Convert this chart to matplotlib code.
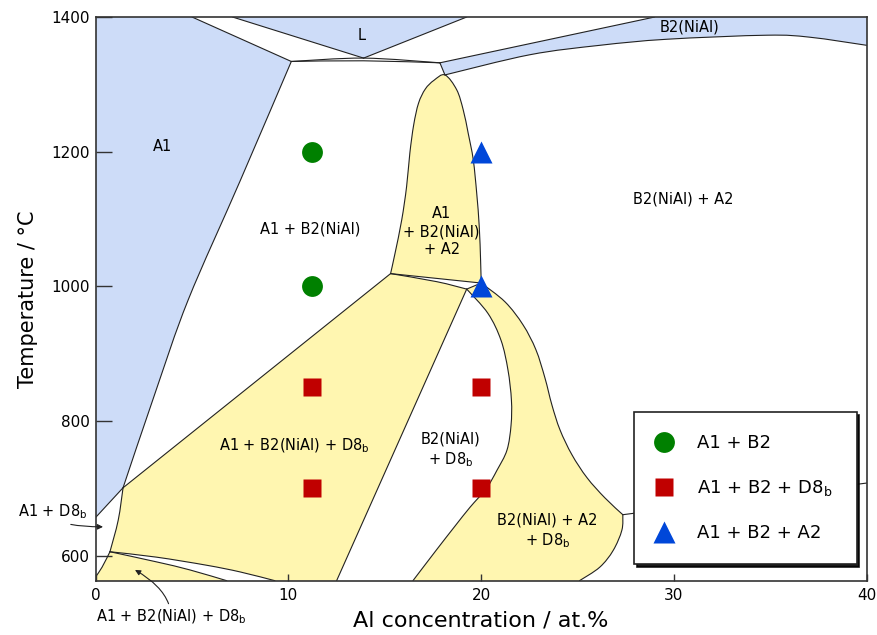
import matplotlib
matplotlib.use("Agg")
import matplotlib.pyplot as plt
from matplotlib.lines import Line2D
from matplotlib.path import Path
from matplotlib.patches import PathPatch

plt.rcParams['font.family'] = ['DejaVu Sans']
plt.rcParams['mathtext.default'] = 'regular'

BLUE = '#cddcf8'
YELLOW = '#fff6b0'
EDGE = '#222222'

# phase boundaries as (at.% Al, deg C)
a1_top = [(5.0, 1400), (10.15, 1334)]
a1_solvus = [(10.15, 1334), (7.5, 1157), (4.8, 980), (3.1, 843), (1.42, 701)]
a1_solvus_mid = [(1.42, 701), (1.17, 653), (0.74, 606)]
a1_solvus_low = [(0.74, 606), (0.33, 583), (0.0, 569)]
a1_d8 = [(0.0, 657), (1.42, 701)]
l_left = [(7.1, 1400), (13.9, 1339)]
l_right = [(13.9, 1339), (19.25, 1400)]
melt_upper = [(10.15, 1334), (13.9, 1339), (17.86, 1332)]
melt_lower = [(10.15, 1334), (13.9, 1335), (17.86, 1332)]
b2_upper = [(17.86, 1332), (29.0, 1400)]
b2_left = [(17.86, 1332), (18.12, 1314)]
b2_lower = [(18.12, 1314), (22.53, 1344), (26.16, 1358), (29.64, 1367),
            (34.83, 1373), (37.06, 1370), (40.0, 1358)]
tongue = [(15.3, 1019), (15.53, 1049), (15.88, 1099), (16.13, 1148), (16.3, 1198),
          (16.5, 1240), (16.75, 1272), (17.1, 1293), (17.55, 1306), (18.12, 1314),
          (18.73, 1292), (19.07, 1262), (19.33, 1227), (19.59, 1188), (19.77, 1138),
          (19.9, 1089), (19.97, 1039), (20.0, 1005)]
tongue_base = [(20.0, 1005), (15.3, 1019)]
sliver_low = [(15.3, 1019), (17.7, 1007), (19.25, 996)]
ternary_left = [(1.42, 701), (15.3, 1019)]
d8_edge = [(19.25, 996), (12.5, 563)]
lens_right = [(19.25, 996), (20.35, 960), (21.03, 920), (21.39, 876), (21.57, 831),
              (21.55, 794), (21.34, 757), (20.82, 727), (20.27, 700), (19.42, 672),
              (18.64, 644), (17.66, 608), (16.46, 563)]
band_neck = [(19.25, 996), (20.0, 1005)]
band_upper = [(20.0, 1005), (21.24, 977), (22.17, 943), (22.84, 906), (23.31, 864),
              (23.67, 824), (24.09, 787), (24.71, 750), (25.49, 716), (26.42, 686),
              (27.35, 661)]
band_lower = [(27.35, 661), (27.3, 638), (26.85, 608), (26.15, 583), (25.1, 563)]
cusp_line = [(27.35, 661), (40.0, 708)]
low_upper = [(0.74, 606), (3.15, 598), (5.75, 586), (7.5, 576), (9.3, 563)]
low_lower = [(0.74, 606), (3.15, 591), (4.89, 579), (6.8, 563)]

# heat-treatment points
circ_x = [11.2, 11.2]
circ_t = [1200, 1000]
sq_x = [11.2, 11.2, 20, 20]
sq_t = [850, 700, 850, 700]
tri_x = [20, 20]
tri_t = [1200, 1000]
legend_labels = ['A1 + B2', 'A1 + B2 + D8$_b$', 'A1 + B2 + A2']

T_MIN, T_MAX = 563, 1400


def bezier(pts):
    # cubic pieces through every point (Catmull-Rom tangents)
    verts, codes = [], []
    n = len(pts)
    for i in range(n - 1):
        p0, p1 = pts[max(i - 1, 0)], pts[i]
        p2, p3 = pts[i + 1], pts[min(i + 2, n - 1)]
        c1 = (p1[0] + (p2[0] - p0[0]) / 6, p1[1] + (p2[1] - p0[1]) / 6)
        c2 = (p2[0] - (p3[0] - p1[0]) / 6, p2[1] - (p3[1] - p1[1]) / 6)
        verts += [c1, c2, p2]
        codes += [Path.CURVE4] * 3
    return verts, codes


def region(ax, color, *segs):
    verts, codes = [segs[0][0]], [Path.MOVETO]
    for seg in segs:
        if tuple(seg[0]) != tuple(verts[-1]):
            verts.append(seg[0])
            codes.append(Path.LINETO)
        v, c = bezier(seg)
        verts += v
        codes += c
    verts.append(verts[0])
    codes.append(Path.CLOSEPOLY)
    ax.add_patch(PathPatch(Path(verts, codes), facecolor=color, lw=0, zorder=1))


def line(ax, pts):
    v, c = bezier(pts)
    path = Path([pts[0]] + v, [Path.MOVETO] + c)
    ax.add_patch(PathPatch(path, fill=False, edgecolor=EDGE, lw=0.8, zorder=2,
                           joinstyle='round', capstyle='round'))


def rev(pts):
    return pts[::-1]


fig = plt.figure(figsize=(8.77, 6.35), dpi=100)
ax = fig.add_axes([0.1091, 0.0855, 0.8791, 0.8877])

# single-phase fields
region(ax, BLUE, [(0, 1400), (5.0, 1400)], a1_top, a1_solvus, rev(a1_d8))
region(ax, BLUE, l_left, l_right)
region(ax, BLUE, b2_upper, [(29.0, 1400), (40, 1400), (40, 1358)], rev(b2_lower), rev(b2_left))

# three-phase fields
region(ax, YELLOW, tongue, tongue_base)
region(ax, YELLOW, ternary_left, sliver_low, d8_edge, [(12.5, 563), (9.3, 563)],
       rev(low_upper), rev(a1_solvus_mid))
region(ax, YELLOW, rev(a1_solvus_low), low_lower, [(6.8, 563), (0.0, 563)])
region(ax, YELLOW, band_neck, band_upper, band_lower, [(25.1, 563), (16.46, 563)],
       rev(lens_right))

for seg in [a1_top, a1_solvus, a1_solvus_mid, a1_solvus_low, a1_d8, l_left, l_right,
            melt_upper, melt_lower, b2_upper, b2_left, b2_lower, tongue, tongue_base,
            sliver_low, ternary_left, d8_edge, lens_right, band_neck, band_upper,
            band_lower, cusp_line, low_upper, low_lower]:
    line(ax, seg)

# markers
ax.plot(circ_x, circ_t, 'o', ms=15, color='#008000', mec='none', zorder=4)
ax.plot(sq_x, sq_t, 's', ms=12.5, color='#c00000', mec='none', zorder=4)
ax.plot(tri_x, tri_t, '^', ms=16, color='#0047d9', mec='none', zorder=4)

# field labels
fs = 10.5
ax.text(13.8, 1373, 'L', fontsize=fs, ha='center', va='center')
ax.text(30.8, 1385, 'B2(NiAl)', fontsize=fs, ha='center', va='center')
ax.text(3.45, 1207, 'A1', fontsize=fs, ha='center', va='center')
ax.text(11.15, 1085, 'A1 + B2(NiAl)', fontsize=fs, ha='center', va='center')
ax.text(17.95, 1081, 'A1\n+ B2(NiAl)\n+ A2', fontsize=fs, ha='center', va='center',
        linespacing=1.25)
ax.text(30.5, 1130, 'B2(NiAl) + A2', fontsize=fs, ha='center', va='center')
ax.text(10.3, 764, 'A1 + B2(NiAl) + D8$_b$', fontsize=fs, ha='center', va='center')
ax.text(18.4, 757, 'B2(NiAl)\n+ D8$_b$', fontsize=fs, ha='center', va='center',
        linespacing=1.25)
ax.text(23.45, 636, 'B2(NiAl) + A2\n+ D8$_b$', fontsize=fs, ha='center', va='center',
        linespacing=1.25)

arrow = dict(arrowstyle='-|>', color=EDGE, lw=0.8, mutation_scale=8, shrinkA=1, shrinkB=0)
ax.annotate('A1 + D8$_b$', xy=(0.38, 643), xycoords='data', xytext=(53, 123),
            textcoords='figure pixels', ha='center', va='center', fontsize=fs,
            arrowprops=dict(arrow, connectionstyle='angle3,angleA=90,angleB=0'),
            annotation_clip=False)
ax.annotate('A1 + B2(NiAl) + D8$_b$', xy=(2.04, 579), xycoords='data', xytext=(171, 18),
            textcoords='figure pixels', ha='center', va='center', fontsize=fs,
            arrowprops=dict(arrow, connectionstyle='angle3,angleA=90,angleB=-30'),
            annotation_clip=False)

ax.set_xlim(0, 40)
ax.set_ylim(T_MIN, T_MAX)
ax.set_xticks([0, 10, 20, 30, 40])
ax.set_yticks([600, 800, 1000, 1200, 1400])
ax.tick_params(axis='y', direction='in', length=11.5, width=1, pad=4, labelsize=11, color='#333333')
ax.tick_params(axis='x', direction='in', length=5, width=1, pad=5, labelsize=11, color='#333333')
for sp in ax.spines.values():
    sp.set_linewidth(1.2)
    sp.set_color('#333333')

ax.set_xlabel('Al concentration / at.%', fontsize=16, labelpad=6)
ax.set_ylabel('Temperature / °C', fontsize=15, labelpad=10)

handles = [
    Line2D([], [], ls='none', marker='o', ms=15, color='#008000', mec='none'),
    Line2D([], [], ls='none', marker='s', ms=12.5, color='#c00000', mec='none'),
    Line2D([], [], ls='none', marker='^', ms=16, color='#0047d9', mec='none'),
]
leg = ax.legend(handles, legend_labels, loc='lower left',
                bbox_to_anchor=(0.698, 0.0296, 0.289, 0.277), mode='expand',
                borderaxespad=0, fontsize=13, fancybox=False, edgecolor=EDGE,
                framealpha=1, borderpad=1.2, labelspacing=1.45, handlelength=0.93,
                handletextpad=1.37, numpoints=1,
                shadow={'color': 'black', 'alpha': 0.9})
leg.get_frame().set_linewidth(1.2)
leg.set_zorder(5)

fig.savefig('out.png', dpi=100)
